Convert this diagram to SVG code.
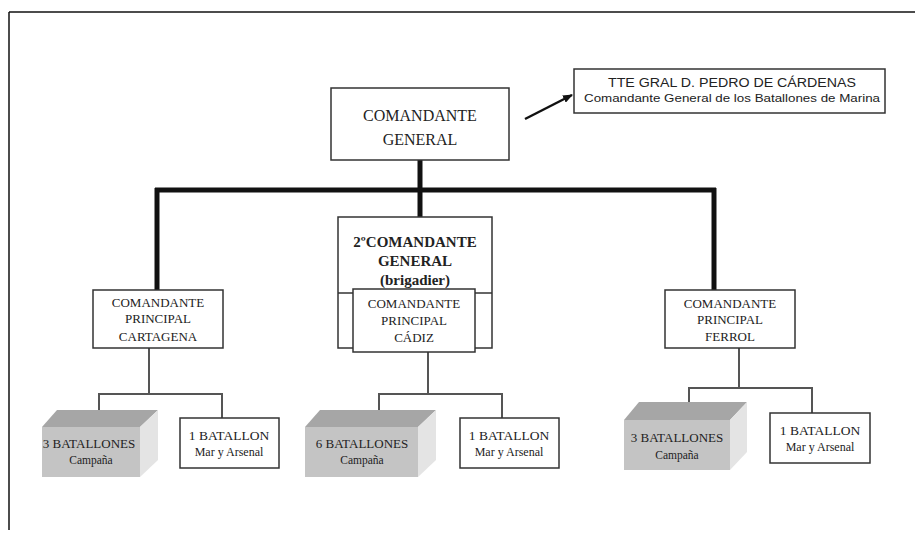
<svg xmlns="http://www.w3.org/2000/svg" width="915" height="535" viewBox="0 0 915 535">
<style>
.box{fill:#fff;stroke:#333;stroke-width:1.5}
.t{font-family:"Liberation Serif","Times New Roman",serif;fill:#222;text-anchor:middle}
.s{font-family:"Liberation Sans",Arial,sans-serif;fill:#222;text-anchor:middle}
.thick{stroke:#111;stroke-width:5;fill:none}
.thin{stroke:#555;stroke-width:2;fill:none}
.front{fill:#c4c4c4}
.top{fill:#a6a6a6}
.side{fill:#e4e4e4}
</style>
<defs>
<marker id="ah" markerWidth="10" markerHeight="8" refX="9" refY="4" orient="auto" markerUnits="userSpaceOnUse">
<path d="M0,0 L10,4 L0,8 Z" fill="#111"/>
</marker>
</defs>
<rect width="915" height="535" fill="#fff"/>
<g id="frame" stroke="#111" stroke-width="1.5">
<line x1="9" y1="12" x2="915" y2="12"/>
<line x1="9" y1="12" x2="9" y2="530"/>
</g>
<g id="connectors">
<line class="thick" x1="420" y1="160" x2="420" y2="218"/>
<line class="thick" x1="155" y1="190" x2="716" y2="190"/>
<line class="thick" x1="157" y1="188" x2="157" y2="290"/>
<line class="thick" x1="714" y1="188" x2="714" y2="290"/>
<line stroke="#111" stroke-width="2.5" x1="525" y1="119" x2="572" y2="95" marker-end="url(#ah)"/>
<path class="thin" d="M149,348 V394 M99,394 H222 M99,393 V417 M222,393 V418"/>
<path class="thin" d="M428,352 V394 M379,394 H502 M379,393 V417 M502,393 V418"/>
<path class="thin" d="M739,348 V388 M689,388 H812 M689,387 V412 M812,387 V413"/>
</g>
<g id="cmd-general">
<rect class="box" x="331" y="88" width="178" height="72"/>
<text class="t" x="420" y="121" font-size="16">COMANDANTE</text>
<text class="t" x="420" y="145" font-size="16">GENERAL</text>
</g>
<g id="tte">
<rect class="box" x="574" y="69" width="311" height="44"/>
<text class="s" x="732" y="87" font-size="12" textLength="248" lengthAdjust="spacingAndGlyphs">TTE  GRAL  D. PEDRO DE CÁRDENAS</text>
<text class="s" x="732" y="102" font-size="11" textLength="296" lengthAdjust="spacingAndGlyphs">Comandante General de los Batallones de Marina</text>
</g>
<g id="segundo">
<rect class="box" x="338" y="217" width="154" height="131"/>
<line x1="338" y1="293" x2="492" y2="293" stroke="#333" stroke-width="1.5"/>
<text class="t" x="415" y="247" font-size="15" font-weight="bold">2ºCOMANDANTE</text>
<text class="t" x="415" y="266" font-size="15" font-weight="bold">GENERAL</text>
<text class="t" x="415" y="285" font-size="15" font-weight="bold">(brigadier)</text>
</g>
<g id="cadiz">
<rect class="box" x="353" y="289" width="122" height="63"/>
<text class="t" x="414" y="308" font-size="13">COMANDANTE</text>
<text class="t" x="414" y="325" font-size="13">PRINCIPAL</text>
<text class="t" x="414" y="342" font-size="13">CÁDIZ</text>
</g>
<g id="cartagena">
<rect class="box" x="93" y="290" width="130" height="58"/>
<text class="t" x="158" y="307" font-size="13">COMANDANTE</text>
<text class="t" x="158" y="323" font-size="13">PRINCIPAL</text>
<text class="t" x="158" y="341" font-size="13">CARTAGENA</text>
</g>
<g id="ferrol">
<rect class="box" x="665" y="290" width="130" height="58"/>
<text class="t" x="730" y="308" font-size="13">COMANDANTE</text>
<text class="t" x="730" y="324" font-size="13">PRINCIPAL</text>
<text class="t" x="730" y="341" font-size="13">FERROL</text>
</g>
<g id="bat-cartagena">
<polygon class="top" points="42,427 57,410 158,410 140,427"/>
<polygon class="side" points="140,427 158,410 158,460 140,477"/>
<rect class="front" x="42" y="427" width="98" height="50"/>
<text class="t" x="89" y="448" font-size="13">3 BATALLONES</text>
<text class="t" x="91" y="464" font-size="11.5">Campaña</text>
</g>
<g id="mar-cartagena">
<rect class="box" x="180" y="418" width="99" height="50"/>
<text class="t" x="229" y="440" font-size="13.5">1 BATALLON</text>
<text class="t" x="229" y="456" font-size="12">Mar y Arsenal</text>
</g>
<g id="bat-cadiz">
<polygon class="top" points="305,427 320,410 436,410 418,427"/>
<polygon class="side" points="418,427 436,410 436,460 418,477"/>
<rect class="front" x="305" y="427" width="113" height="50"/>
<text class="t" x="362" y="448" font-size="13">6 BATALLONES</text>
<text class="t" x="362" y="464" font-size="11.5">Campaña</text>
</g>
<g id="mar-cadiz">
<rect class="box" x="460" y="418" width="99" height="50"/>
<text class="t" x="509" y="440" font-size="13.5">1 BATALLON</text>
<text class="t" x="509" y="456" font-size="12">Mar y Arsenal</text>
</g>
<g id="bat-ferrol">
<polygon class="top" points="624,420 639,402 747,402 730,420"/>
<polygon class="side" points="730,420 747,402 747,452 730,470"/>
<rect class="front" x="624" y="420" width="106" height="50"/>
<text class="t" x="677" y="442" font-size="13">3 BATALLONES</text>
<text class="t" x="677" y="459" font-size="11.5">Campaña</text>
</g>
<g id="mar-ferrol">
<rect class="box" x="770" y="413" width="100" height="50"/>
<text class="t" x="820" y="435" font-size="13.5">1 BATALLON</text>
<text class="t" x="820" y="451" font-size="12">Mar y Arsenal</text>
</g>
</svg>
